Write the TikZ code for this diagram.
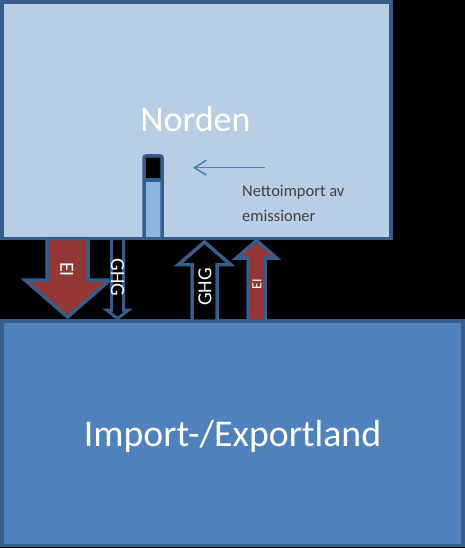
\documentclass[tikz,border=0pt]{standalone}
\usepackage{fontspec}
\setmainfont{Carlito}
\usetikzlibrary{arrows.meta}
\definecolor{topfill}{HTML}{B9CDE5}
\definecolor{botfill}{HTML}{4F81BD}
\definecolor{edgeblue}{HTML}{385D8A}
\definecolor{redfill}{HTML}{953735}
\definecolor{tubefill}{HTML}{8EB4E3}
\definecolor{linkblue}{HTML}{4A7EBB}
\definecolor{textgray}{HTML}{404040}
\tikzset{
  bigbox/.style={draw=edgeblue, line width=3.5pt, rectangle, inner sep=0pt, outer sep=0pt},
  blockarrow/.style={draw=edgeblue, line width=3.5pt, line join=miter},
  thinarrow/.style={draw=edgeblue, line width=3pt, line join=miter},
  bigtext/.style={text=white, font=\fontsize{36}{43}\selectfont, inner sep=0pt, anchor=base},
  arrowtext/.style={text=white, font=\fontsize{20}{24}\selectfont, inner sep=0pt},
  smalltext/.style={text=textgray, font=\fontsize{16.5}{20}\selectfont, inner sep=0pt, anchor=base west}
}
\begin{document}
\begin{tikzpicture}[x=1pt,y=-1pt]
\fill[black] (0,0) rectangle (465,548);
\useasboundingbox (0,0) rectangle (465,548);

% boxes
\node[bigbox, fill=topfill, minimum width=389pt, minimum height=236.5pt] (norden) at (196.5,120.25) {};
\node[bigbox, fill=botfill, minimum width=461pt, minimum height=224.5pt] (land) at (232.5,433.25) {};

% labels of the boxes
\node[bigtext] (nordenlabel) at (195.5,132) {Norden};
\node[bigtext, font=\fontsize{37.8}{45}\selectfont] (landlabel) at (232.5,446) {Import-/Exportland};

% big downward EI arrow
\draw[blockarrow, fill=redfill] (47,238.5) -- (47,280) -- (25,280) -- (67.5,317) -- (110,280) -- (88,280) -- (88,238.5) -- cycle;
\node[arrowtext, rotate=-90] (eidown) at (66.7,269.5) {EI};

% small downward GHG arrow
\draw[thinarrow, fill=black] (111.5,238.5) -- (111.5,310) -- (106.5,310) -- (117.5,318.5) -- (128.5,310) -- (123.5,310) -- (123.5,238.5) -- cycle;
\node[arrowtext, rotate=-90] (ghgdown) at (117.5,277.5) {GHG};

% upward GHG arrow
\draw[blockarrow, fill=black] (192,321) -- (192,264.5) -- (178.5,264.5) -- (204.5,242) -- (230.5,264.5) -- (217,264.5) -- (217,321) -- cycle;
\node[arrowtext, rotate=90] (ghgup) at (205,287) {GHG};

% upward EI arrow
\draw[blockarrow, fill=redfill] (248,321) -- (248,258) -- (236.5,258) -- (256.5,240.5) -- (276.5,258) -- (265,258) -- (265,321) -- cycle;
\node[arrowtext, rotate=90, font=\fontsize{14}{17}\selectfont] (eiup) at (257,284.5) {EI};

% tube
\fill[tubefill] (144,156) rectangle (162,237);
\fill[black] (144,156) rectangle (162,180);
\draw[edgeblue, line width=3.5pt, rounded corners=2pt] (144,237) -- (144,156) -- (162,156) -- (162,237);
\draw[edgeblue, line width=3.5pt] (144,180) -- (162,180);

% net import arrow
\coordinate (arrstart) at (265,167.7);
\coordinate (arrend) at (193,167.7);
\draw[linkblue, line width=1.5pt, -{Straight Barb[length=12pt,width=15pt]}] (arrstart) -- (arrend);

\node[smalltext] (nt1) at (242,196) {Nettoimport av};
\node[smalltext] (nt2) at (242,221) {emissioner};
\end{tikzpicture}
\end{document}
